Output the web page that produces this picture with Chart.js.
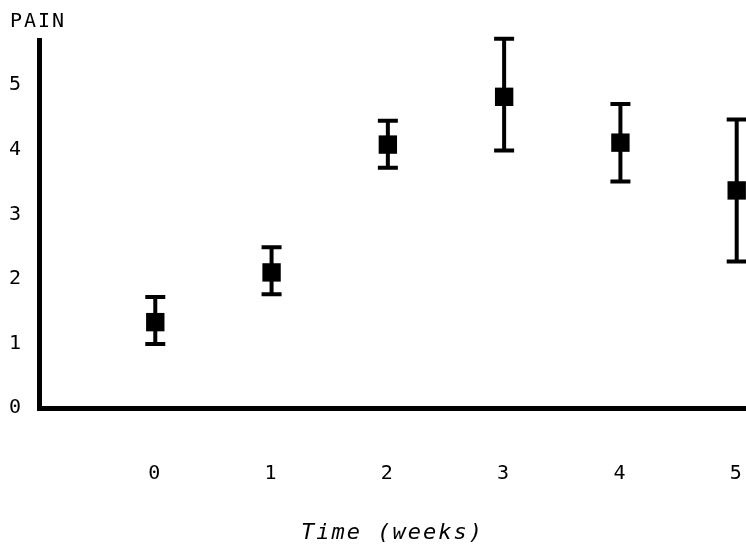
<!DOCTYPE html>
<html>
<head>
<meta charset="utf-8">
<script src="https://cdn.jsdelivr.net/npm/chart.js@4"></script>
<style>
  html, body { margin: 0; padding: 0; background: #fff; }
  #wrap { width: 746px; height: 548px; }
</style>
</head>
<body>
<div id="wrap"><canvas id="grafico"></canvas></div>
<script>
// ==============================
// DATOS
// ==============================
const semanas = [0, 1, 2, 3, 4, 5];
const dolorMedio = [1.33, 2.10, 4.08, 4.82, 4.11, 3.37];
const dolorSuperior = [1.72, 2.49, 4.45, 5.72, 4.71, 4.47];
const dolorInferior = [0.99, 1.76, 3.72, 3.99, 3.51, 2.27];
const ticksX = [0, 1, 2, 3, 4, 5];
const ticksY = [0, 1, 2, 3, 4, 5];

const fuente = "'DejaVu Sans Mono', monospace";

// ==============================
// BARRAS DE ERROR + ESPACIADO DE LETRAS
// ==============================
const barrasError = {
    id: 'barrasError',
    beforeDraw(chart) {
        chart.ctx.letterSpacing = '2px';
    },
    beforeDatasetsDraw(chart) {
        const ctx = chart.ctx;
        const x = chart.scales.x;
        const y = chart.scales.y;
        ctx.save();
        ctx.strokeStyle = '#000';
        ctx.lineCap = 'butt';
        ctx.lineWidth = 4;
        semanas.forEach((s, i) => {
            const px = x.getPixelForValue(s);
            const top = y.getPixelForValue(dolorSuperior[i]);
            const bot = y.getPixelForValue(dolorInferior[i]);
            ctx.beginPath();
            ctx.moveTo(px, top);
            ctx.lineTo(px, bot);
            ctx.moveTo(px - 10, top);
            ctx.lineTo(px + 10, top);
            ctx.moveTo(px - 10, bot);
            ctx.lineTo(px + 10, bot);
            ctx.stroke();
        });
        ctx.restore();
    }
};

new Chart(document.getElementById('grafico'), {
    type: 'scatter',
    data: {
        datasets: [{
            label: 'PAIN',
            data: semanas.map((s, i) => ({ x: s, y: dolorMedio[i] })),
            pointStyle: 'rect',
            pointRadius: 13,
            pointHoverRadius: 13,
            backgroundColor: '#000',
            borderColor: '#000',
            borderWidth: 0
        }]
    },
    options: {
        responsive: true,
        maintainAspectRatio: false,
        animation: false,
        layout: { padding: { left: 10, right: 0, top: 0, bottom: 0 }, autoPadding: false },
        plugins: {
            legend: { display: false },
            tooltip: { enabled: false },
            title: {
                display: true,
                text: 'PAIN',
                align: 'start',
                color: '#000',
                font: { family: fuente, size: 20, weight: 'normal' },
                padding: { top: 10, bottom: 6 }
            }
        },
        scales: {
            x: {
                type: 'linear',
                min: -1,
                max: 5.08,
                afterBuildTicks: (eje) => { eje.ticks = ticksX.map(v => ({ value: v })); },
                afterFit: (eje) => {
                    eje.height = 140;
                    eje.paddingLeft = 0;
                    eje.paddingRight = 0;
                },
                grid: { display: false, drawTicks: false },
                border: { display: true, color: '#000', width: 5 },
                ticks: {
                    color: '#000',
                    padding: 54,
                    maxRotation: 0,
                    font: { family: fuente, size: 20 }
                },
                title: {
                    display: true,
                    text: 'Time (weeks)',
                    color: '#000',
                    font: { family: fuente, size: 22, style: 'italic' },
                    padding: { top: 0, bottom: 2 }
                }
            },
            y: {
                type: 'linear',
                min: 0,
                max: 5.7,
                afterBuildTicks: (eje) => { eje.ticks = ticksY.map(v => ({ value: v })); },
                afterFit: (eje) => {
                    eje.width = 29;
                    eje.paddingTop = 0;
                    eje.paddingBottom = 0;
                },
                grid: { display: false, drawTicks: false },
                border: { display: true, color: '#000', width: 5 },
                ticks: {
                    color: '#000',
                    padding: 16,
                    font: { family: fuente, size: 20 }
                }
            }
        }
    },
    plugins: [barrasError]
});
</script>
</body>
</html>
